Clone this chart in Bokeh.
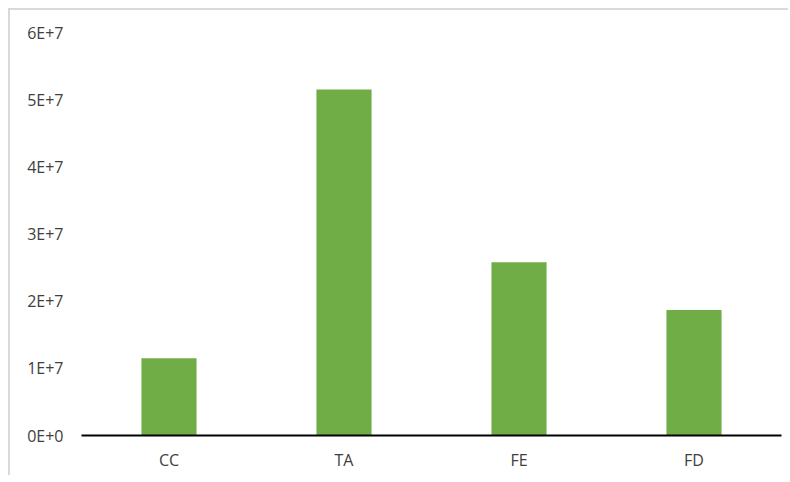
from bokeh.plotting import figure
from bokeh.models import FactorRange, Range1d, CustomJSTickFormatter, FixedTicker
from bokeh.embed import file_html
from bokeh.resources import INLINE

categories = ["CC", "TA", "FE", "FD"]
values = [1.15e7, 5.15e7, 2.58e7, 1.87e7]
y_ticks = [0, 1e7, 2e7, 3e7, 4e7, 5e7, 6e7]

p = figure(width=780, height=467, output_backend="svg", toolbar_location=None,
           x_range=FactorRange(*categories, range_padding=0),
           y_range=Range1d(0, 6e7),
           min_border_left=71, min_border_right=9, min_border_top=22, min_border_bottom=42)
p.styles = {"border-top": "2px solid #d9d9d9", "border-left": "2px solid #d9d9d9",
            "margin-left": "8px", "margin-top": "8px"}
p.outline_line_color = None
p.xgrid.grid_line_color = None
p.ygrid.grid_line_color = None

p.vbar(x=categories, top=values, width=0.315, fill_color="#70ad47", line_color=None)

p.yaxis.ticker = FixedTicker(ticks=y_ticks)
p.yaxis.formatter = CustomJSTickFormatter(code="""
if (tick == 0) { return "0E+0"; }
const e = Math.floor(Math.log10(Math.abs(tick)));
const m = Math.round(tick / Math.pow(10, e));
return m + "E+" + e;
""")
p.yaxis.axis_line_color = None
p.yaxis.major_tick_line_color = None
p.yaxis.minor_tick_line_color = None
p.yaxis.major_label_standoff = 12
p.yaxis.major_label_text_font = "Open Sans"
p.yaxis.major_label_text_font_size = "16px"
p.yaxis.major_label_text_color = "#404040"

p.xaxis.axis_line_color = "black"
p.xaxis.axis_line_width = 2
p.xaxis.major_tick_line_color = None
p.xaxis.minor_tick_line_color = None
p.xaxis.major_label_standoff = 7
p.xaxis.major_label_text_font = "Open Sans"
p.xaxis.major_label_text_font_size = "16px"
p.xaxis.major_label_text_color = "#404040"

open("out.html", "w").write(file_html(p, INLINE))
